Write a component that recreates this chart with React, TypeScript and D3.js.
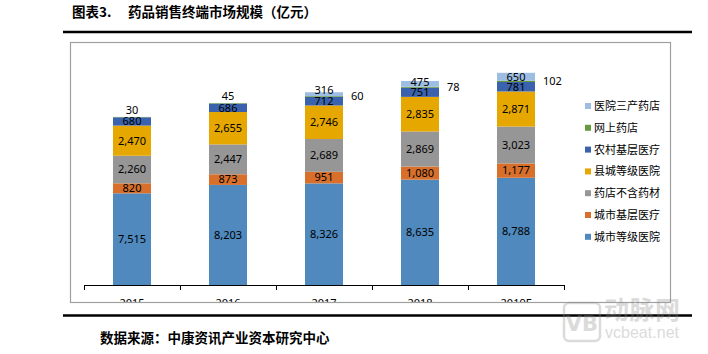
import React from "react";
import * as d3 from "d3";

// years and the seven market segments (亿元), bottom to top of each bar
const years = ["2015", "2016", "2017", "2018", "2019F"];
const cityHospital = [7515, 8203, 8326, 8635, 8788];
const cityPrimary = [820, 873, 951, 1080, 1177];
const pharmacy = [2260, 2447, 2689, 2869, 3023];
const countyHospital = [2470, 2655, 2746, 2835, 2871];
const ruralPrimary = [680, 686, 712, 751, 781];
const onlinePharmacy = [30, 45, 60, 78, 102];
const hospitalPharmacy = [0, 0, 316, 475, 650];

const seriesNames = [
  "城市等级医院",
  "城市基层医疗",
  "药店不含药材",
  "县城等级医院",
  "农村基层医疗",
  "网上药店",
  "医院三产药店",
];
const seriesValues = [
  cityHospital,
  cityPrimary,
  pharmacy,
  countyHospital,
  ruralPrimary,
  onlinePharmacy,
  hospitalPharmacy,
];
const colors = ["#4f89bd", "#d8702c", "#969696", "#e6a800", "#3b63ad", "#64993c", "#9dbde2"];

const W = 708;
const H = 354;
const frame = { left: 70.5, top: 42.5, right: 670.5, bottom: 302.5 };
const baseY = 285;
const numFont = "'Noto Sans', 'DejaVu Sans', sans-serif";
const cjkFont = "'Noto Sans CJK SC', sans-serif";

export default function App() {
  const x = d3
    .scaleBand<string>()
    .domain(years)
    .range([84, 564])
    .paddingInner(0.604)
    .paddingOuter(0.302);
  const y = d3.scaleLinear().domain([0, 20000]).range([baseY, 41]);
  const fmt = d3.format(",");

  const rows = years.map((yr, i) => {
    const obj: any = { year: yr };
    seriesNames.forEach((n, k) => (obj[n] = seriesValues[k][i]));
    return obj;
  });
  const stacked = d3.stack<any>().keys(seriesNames)(rows);

  const labels: JSX.Element[] = [];
  stacked.forEach((layer, k) => {
    layer.forEach((d, i) => {
      const v = seriesValues[k][i];
      if (!v) return;
      const x0 = x(years[i])!;
      const top = y(d[1]);
      const bot = y(d[0]);
      const h = bot - top;
      let lx = x0 + x.bandwidth() / 2;
      let ly = (top + bot) / 2;
      let anchor = "middle";
      if (k === 5) {
        // 网上药店: above the bar when nothing sits on it, else to the right
        if (hospitalPharmacy[i]) {
          lx = x0 + x.bandwidth() + 8;
          anchor = "start";
        } else {
          ly = top - 7;
        }
      } else if (k === 6) {
        ly = ly - Math.max(0, 8 - h);
      }
      labels.push(
        <text
          key={`l${k}-${i}`}
          x={lx}
          y={ly}
          dy="0.35em"
          textAnchor={anchor}
          fontFamily={numFont}
          fontSize={11}
          fill="#000"
        >
          {fmt(v)}
        </text>
      );
    });
  });

  const legendOrder = seriesNames.map((_, k) => k).reverse();

  return (
    <svg width={W} height={H} style={{ position: "absolute", left: 0, top: 0 }}>
      <defs>
        <clipPath id="frameClip">
          <rect x={frame.left} y={frame.top} width={frame.right - frame.left} height={frame.bottom - frame.top - 0.5} />
        </clipPath>
      </defs>
      <rect width={W} height={H} fill="#fff" />

      {/* title */}
      <text x={72} y={17} fontFamily={cjkFont} fontWeight="bold" fontSize={13.5} fill="#000">
        图表3.
      </text>
      <text x={128} y={17} fontFamily={cjkFont} fontWeight="bold" fontSize={13.5} fill="#000">
        药品销售终端市场规模（亿元）
      </text>
      <line x1={63} x2={692} y1={32} y2={32} stroke="#000" strokeWidth={2.5} />

      {/* chart frame */}
      <rect
        x={frame.left}
        y={frame.top}
        width={frame.right - frame.left}
        height={frame.bottom - frame.top}
        fill="#fff"
        stroke="#a0a0a0"
        strokeWidth={1.2}
      />

      {/* bars */}
      {stacked.map((layer, k) => (
        <g key={seriesNames[k]} fill={colors[k]}>
          {layer.map((d, i) => (
            <rect
              key={i}
              x={x(years[i])}
              y={y(d[1])}
              width={x.bandwidth()}
              height={Math.max(0, y(d[0]) - y(d[1]))}
            />
          ))}
        </g>
      ))}
      {labels}

      {/* x axis */}
      <line x1={84} x2={564} y1={baseY + 0.5} y2={baseY + 0.5} stroke="#000" strokeWidth={1} />
      {d3.range(years.length + 1).map((j) => {
        const tx = Math.round(84 + j * x.step()) + 0.5;
        return <line key={j} x1={tx} x2={tx} y1={baseY} y2={baseY + 5} stroke="#000" strokeWidth={1} />;
      })}
      <g clipPath="url(#frameClip)">
        {years.map((yr) => (
          <text
            key={yr}
            x={x(yr)! + x.bandwidth() / 2}
            y={307}
            textAnchor="middle"
            fontFamily={numFont}
            fontSize={11}
            fill="#000"
          >
            {yr}
          </text>
        ))}
      </g>

      {/* legend */}
      {legendOrder.map((k, r) => {
        const ly = 106 + r * 21.8;
        return (
          <g key={seriesNames[k]}>
            <rect x={585} y={ly - 3} width={6} height={6} fill={colors[k]} />
            <text x={594} y={ly} dy="0.36em" fontFamily={cjkFont} fontSize={11} fill="#000">
              {seriesNames[k]}
            </text>
          </g>
        );
      })}

      {/* source */}
      <line x1={63} x2={692} y1={315.5} y2={315.5} stroke="#000" strokeWidth={2.5} />
      <text x={100} y={343} fontFamily={cjkFont} fontWeight="bold" fontSize={13.5} fill="#000">
        数据来源：中康资讯产业资本研究中心
      </text>

      {/* watermark */}
      <g opacity={0.3}>
        <rect x={564} y={303} width={36} height={38} rx={5} fill="none" stroke="#8a8a8a" strokeWidth={2.5} />
        <text x={582} y={331} textAnchor="middle" fontFamily="'DejaVu Sans', sans-serif" fontWeight="bold" fontSize={21} fill="#8a8a8a">
          VB
        </text>
        <text x={604} y={319} fontFamily={cjkFont} fontWeight="bold" fontSize={25} fill="#8a8a8a" textLength={76}>
          动脉网
        </text>
        <text x={605} y={338} fontFamily="'Liberation Sans', sans-serif" fontSize={16} fill="#8a8a8a" textLength={74}>
          vcbeat.net
        </text>
      </g>
    </svg>
  );
}
